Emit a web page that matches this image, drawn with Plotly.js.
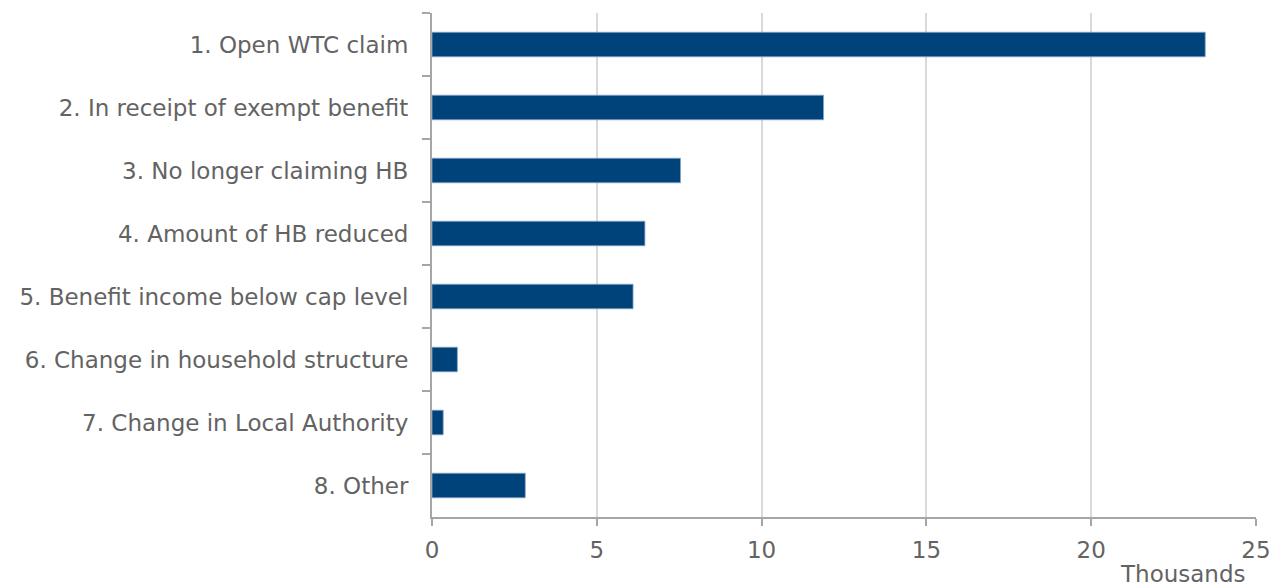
<!DOCTYPE html>
<html><head><meta charset="utf-8">
<script src="https://cdn.plot.ly/plotly-3.0.1.min.js"></script>
<style>html,body{margin:0;padding:0;background:#fff}#chart{width:1272px;height:587px}</style>
</head><body><div id="chart"></div>
<script>
const categories = [
  "1. Open WTC claim",
  "2. In receipt of exempt benefit",
  "3. No longer claiming HB",
  "4. Amount of HB reduced",
  "5. Benefit income below cap level",
  "6. Change in household structure",
  "7. Change in Local Authority",
  "8. Other"
];
const values = [23.46, 11.88, 7.54, 6.46, 6.10, 0.77, 0.34, 2.83];
const xTickVals = [0, 5, 10, 15, 20, 25];
const xUnitLabel = "Thousands";

const grey = "#636363";
Plotly.newPlot("chart", [{
  type: "bar",
  orientation: "h",
  y: categories,
  x: values,
  marker: {color: "#00427a", line: {color: "#8aa6c4", width: 0.8}},
  hoverinfo: "x+y"
}], {
  width: 1272, height: 587,
  margin: {l: 432, r: 16, t: 13, b: 70},
  paper_bgcolor: "#fff", plot_bgcolor: "#fff",
  font: {family: "DejaVu Sans, Liberation Sans, Arial, sans-serif", size: 23, color: grey},
  bargap: 0.61,
  showlegend: false,
  xaxis: {
    range: [0, 25], tickvals: xTickVals, ticktext: xTickVals.map(String),
    showgrid: true, gridcolor: "#d9d9d9", gridwidth: 1.5,
    showline: true, linecolor: "#a6a6a6", linewidth: 2,
    ticks: "outside", ticklen: 7, tickcolor: "#a6a6a6", tickwidth: 2,
    ticklabelstandoff: 4,
    zeroline: false,
    tickfont: {size: 23, color: grey}
  },
  yaxis: {
    type: "category", autorange: "reversed",
    showline: true, linecolor: "#a6a6a6", linewidth: 2,
    ticks: "outside", ticklen: 8, tickcolor: "#a6a6a6", tickwidth: 2,
    tickson: "boundaries",
    ticklabelstandoff: 17,
    showgrid: false, zeroline: false,
    tickfont: {size: 23, color: grey}
  },
  annotations: [{
    text: xUnitLabel, xref: "paper", yref: "paper", x: 1, y: 0,
    xanchor: "right", yanchor: "top", yshift: -42, xshift: -8, showarrow: false,
    font: {size: 23, color: grey}
  }]
}, {displayModeBar: false});
</script></body></html>
